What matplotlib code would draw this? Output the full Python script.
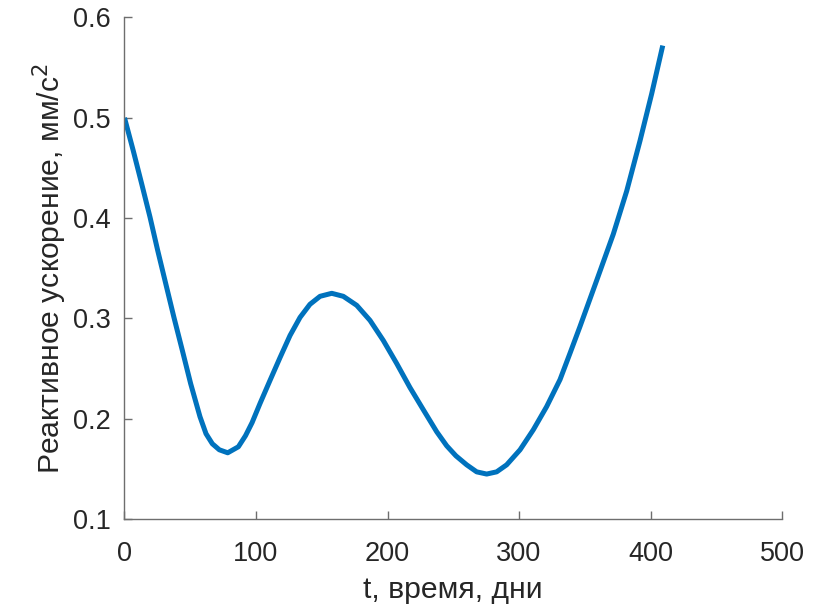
import matplotlib
matplotlib.use("Agg")
import matplotlib.pyplot as plt

plt.rcParams['font.family'] = ['Liberation Sans', 'DejaVu Sans']

t_days = [0, 6.7, 13.1, 19.4, 25.2, 31.3, 37.6, 44, 50.3, 57.4, 62, 66.8, 72.1,
          78.5, 86.6, 92.0, 97.0, 103, 110.6, 118.3, 125.9, 133.5, 141, 148.7,
          157.6, 166.4, 176.6, 186.7, 196.8, 207, 217.1, 227.2, 237.4, 245,
          252, 260.2, 267.8, 275.4, 283, 290.6, 300.8, 310.9, 321, 331.2,
          339, 346.4, 359.1, 371.7, 381.9, 392, 400.9, 409.3]
accel = [0.500, 0.467, 0.434, 0.401, 0.368, 0.335, 0.301, 0.268, 0.235, 0.202,
         0.185, 0.175, 0.169, 0.166, 0.172, 0.183, 0.196, 0.215, 0.238, 0.261,
         0.283, 0.301, 0.314, 0.322, 0.325, 0.322, 0.313, 0.298, 0.278, 0.255,
         0.231, 0.209, 0.187, 0.173, 0.163, 0.154, 0.147, 0.1448, 0.147, 0.154,
         0.169, 0.189, 0.212, 0.239, 0.266, 0.292, 0.338, 0.384, 0.427, 0.477,
         0.524, 0.572]

x_ticks = [0, 100, 200, 300, 400, 500]
y_ticks = [0.1, 0.2, 0.3, 0.4, 0.5, 0.6]
x_label = "t, время, дни"
y_label = "Реактивное ускорение, мм/с$^2$"

fig = plt.figure(figsize=(8.25, 6.09), dpi=100)
ax = fig.add_axes([0.1509, 0.1478, 0.7970, 0.8235])
ax.plot(t_days, accel, color='#0072BD', lw=3.6, solid_joinstyle='round',
        solid_capstyle='butt')
ax.set_xlim(0, 500)
ax.set_ylim(0.1, 0.6)
ax.set_xticks(x_ticks)
ax.set_yticks(y_ticks)
ax.set_xticklabels([str(v) for v in x_ticks])
ax.set_yticklabels([f"{v:.1f}" for v in y_ticks])
for s in ['top', 'right']:
    ax.spines[s].set_visible(False)
for s in ['left', 'bottom']:
    ax.spines[s].set_color('#6e6e6e')
    ax.spines[s].set_linewidth(1.0)
ax.tick_params(direction='in', length=6, width=1.0, color='#6e6e6e',
               labelsize=19.5, labelcolor='#262626')
ax.tick_params(axis='x', pad=16)
ax.tick_params(axis='y', pad=10)
ax.set_xlabel(x_label, fontsize=21.7, color='#262626', labelpad=6)
ax.set_ylabel(y_label, fontsize=21.7, color='#262626', labelpad=3)
fig.savefig("out.png", dpi=100)
